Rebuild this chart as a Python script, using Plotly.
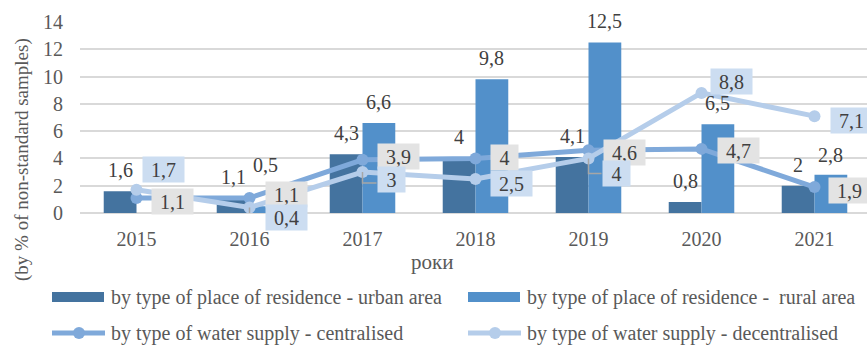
import plotly.graph_objects as go

# ---- data -------------------------------------------------------------
years = ["2015", "2016", "2017", "2018", "2019", "2020", "2021"]
urban = [1.6, 1.1, 4.3, 4.0, 4.1, 0.8, 2.0]
rural = [None, 0.5, 6.6, 9.8, 12.5, 6.5, 2.8]
centralised = [1.1, 1.1, 3.9, 4.0, 4.6, 4.7, 1.9]
decentralised = [1.7, 0.4, 3.0, 2.5, 4.0, 8.8, 7.1]

y_ticks = [0, 2, 4, 6, 8, 10, 12, 14]

names = [
    "by type of place of residence - urban area",
    "by type of place of residence -  rural area",
    "by type of water supply - centralised",
    "by type of water supply - decentralised",
]

# ---- styling ----------------------------------------------------------
FONT = "Liberation Serif"
GREY = "#595959"
DARK = "#404040"
C_URBAN = "#44739F"
C_RURAL = "#5290CA"
C_CENT = "#7FA9DA"
C_DEC = "#B5CDEA"
BOX_CENT = "#E3E3E3"
BOX_DEC = "#CCDDF1"
LEADER = "#A6A6A6"

W, H = 867, 349
ML, MR, MT, MB = 80, 0, 22, 136
PW, PH = W - ML - MR, H - MT - MB
CAT_PX = 113.0  # pixel width of one category slot


def fmt(v):
    s = f"{v:.1f}"
    if s.endswith(".0"):
        s = s[:-2]
    return s.replace(".", ",")


def px_x(px):
    return (px - ML) / PW


def px_y(py):
    return (MT + PH - py) / PH


fig = go.Figure()

fig.add_trace(go.Bar(x=years, y=urban, name=names[0], marker_color=C_URBAN,
                     marker_line_width=0, showlegend=False))
fig.add_trace(go.Bar(x=years, y=rural, name=names[1], marker_color=C_RURAL,
                     marker_line_width=0, showlegend=False))
fig.add_trace(go.Scatter(x=years, y=centralised, name=names[2], mode="lines+markers",
                         line=dict(color=C_CENT, width=5),
                         marker=dict(color=C_CENT, size=12), showlegend=False))
fig.add_trace(go.Scatter(x=years, y=decentralised, name=names[3], mode="lines+markers",
                         line=dict(color=C_DEC, width=5),
                         marker=dict(color=C_DEC, size=12), showlegend=False))

annotations = []
shapes = []

# value labels above the bars (x given as category index); per-label lift in px
half_bar = CAT_PX * (1 - 0.42) / 4
urban_lift = [21, 21, 21, 21, 21, 21, 21]
rural_lift = [21, 41, 21, 21, 21, 21, 20]
for series, shift, lifts in ((urban, -half_bar, urban_lift), (rural, half_bar, rural_lift)):
    for i, (v, lift) in enumerate(zip(series, lifts)):
        if v is None:
            continue
        annotations.append(dict(x=i, y=v, text=fmt(v), showarrow=False,
                                xshift=shift, yshift=lift, yanchor="middle",
                                font=dict(family=FONT, size=20, color=DARK)))

# boxed value labels next to the line points (left gap px, vertical offset px)
cent_offsets = [(14, 4), (15, -3), (14, -3), (14, -1), (14, 2), (15, 2), (13, 3)]
dec_offsets = [(5, -20), (15, 10), (14, 7), (14, 5), (13, 15), (8, -11), (15, 4)]

# small elbow leaders from a point to its moved label: (index, drop px, run px)
dec_leaders = [(1, 9, 15), (2, 11, 14), (4, 15, 13)]
for i, drop, run in dec_leaders:
    shapes.append(dict(type="path", xref="x", yref="y",
                       xsizemode="pixel", ysizemode="pixel",
                       xanchor=i, yanchor=decentralised[i],
                       path=f"M0,0 L0,{-drop} L{run},{-drop}",
                       line=dict(color=LEADER, width=1.5), layer="above"))

for series, offsets, bg in ((centralised, cent_offsets, BOX_CENT),
                            (decentralised, dec_offsets, BOX_DEC)):
    for i, (v, (dx, dy)) in enumerate(zip(series, offsets)):
        t = fmt(v)
        annotations.append(dict(x=i, y=v, text=t, showarrow=False,
                                xanchor="left", yanchor="middle",
                                xshift=dx, yshift=-dy,
                                width=20 + 7 * len(t), height=25,
                                bgcolor=bg, borderpad=0,
                                font=dict(family=FONT, size=20, color=DARK)))

# axis captions
annotations.append(dict(xref="paper", yref="paper", x=px_x(22), y=px_y(160),
                        xanchor="center", yanchor="middle",
                        text="(by % of non-standard samples)", textangle=-90,
                        showarrow=False, font=dict(family=FONT, size=19, color=GREY)))
annotations.append(dict(xref="paper", yref="paper", x=px_x(432), y=px_y(262),
                        xanchor="center", yanchor="middle",
                        text="роки", showarrow=False,
                        font=dict(family=FONT, size=21, color=GREY)))

# legend drawn in pixel space
legend_cols = [52, 468]
legend_rows = [297, 333]
items = [
    (names[0], "bar", C_URBAN, legend_cols[0], legend_rows[0]),
    (names[1], "bar", C_RURAL, legend_cols[1], legend_rows[0]),
    (names[2], "line", C_CENT, legend_cols[0], legend_rows[1]),
    (names[3], "line", C_DEC, legend_cols[1], legend_rows[1]),
]
for label, kind, col, lx, ly in items:
    if kind == "bar":
        shapes.append(dict(type="rect", xref="paper", yref="paper",
                           x0=px_x(lx), x1=px_x(lx + 52), y0=px_y(ly + 5), y1=px_y(ly - 5),
                           fillcolor=col, line_width=0, layer="above"))
    else:
        shapes.append(dict(type="line", xref="paper", yref="paper",
                           x0=px_x(lx), x1=px_x(lx + 53), y0=px_y(ly), y1=px_y(ly),
                           line=dict(color=col, width=5), layer="above"))
        cx = lx + 27
        shapes.append(dict(type="circle", xref="paper", yref="paper",
                           x0=px_x(cx - 6), x1=px_x(cx + 6), y0=px_y(ly + 6), y1=px_y(ly - 6),
                           fillcolor=col, line_width=0, layer="above"))
    annotations.append(dict(xref="paper", yref="paper", x=px_x(lx + 57), y=px_y(ly),
                            xanchor="left", yanchor="middle", text=label, showarrow=False,
                            font=dict(family=FONT, size=20, color=GREY)))

fig.update_layout(
    width=W, height=H,
    margin=dict(l=ML, r=MR, t=MT, b=MB),
    paper_bgcolor="white", plot_bgcolor="white",
    barmode="group", bargap=0.42, bargroupgap=0,
    font=dict(family=FONT, color=GREY),
    annotations=annotations, shapes=shapes,
    showlegend=False,
)
fig.update_xaxes(type="category", range=[-0.5, -0.5 + PW / CAT_PX],
                 showgrid=False, showline=False, zeroline=False,
                 ticks="", ticklabelstandoff=12,
                 tickfont=dict(family=FONT, size=20, color=GREY))
fig.update_yaxes(range=[0, 14], tickvals=y_ticks, ticktext=[str(t) for t in y_ticks],
                 showgrid=True, gridcolor="#D9D9D9", gridwidth=1.5,
                 zeroline=True, zerolinecolor="#D9D9D9", zerolinewidth=1.5,
                 showline=False, ticks="", ticklabelstandoff=16,
                 tickfont=dict(family=FONT, size=20, color=GREY))

fig.write_html("out.html")
